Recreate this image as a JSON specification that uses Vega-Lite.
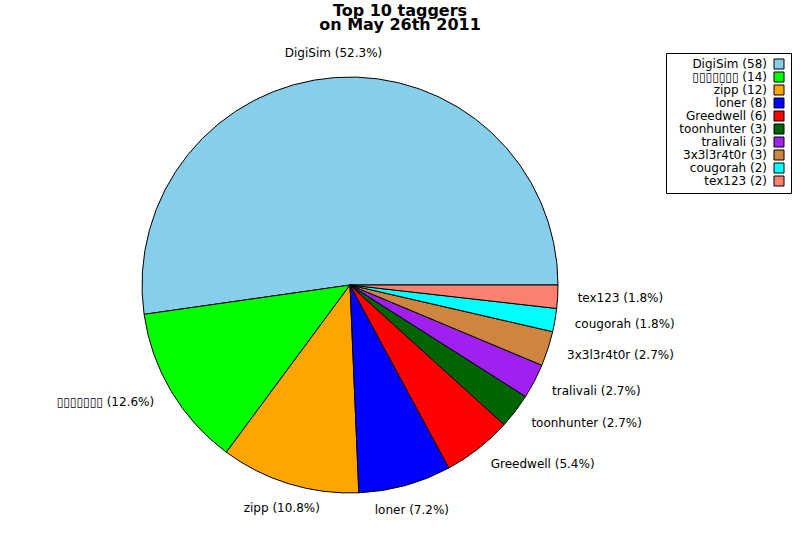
{
  "$schema": "https://vega.github.io/schema/vega-lite/v6.json",
  "width": 416,
  "height": 416,
  "autosize": {"type": "none"},
  "padding": {"left": 142, "top": 77, "right": 242, "bottom": 47},
  "background": "white",
  "config": {"view": {"stroke": null}, "font": "DejaVu Sans", "legend": {"rowPadding": -3}},
  "title": {
    "text": ["Top 10 taggers", "on May 26th 2011"],
    "font": "DejaVu Sans",
    "fontSize": 16,
    "fontWeight": "bold",
    "lineHeight": 14,
    "anchor": "middle",
    "frame": "group",
    "dx": 50,
    "offset": 14,
    "color": "black"
  },
  "data": {
    "values": [
      {"rank": 1, "name": "DigiSim", "count": 58, "label": "DigiSim (52.3%)", "entry": "DigiSim (58)"},
      {"rank": 2, "name": "▯▯▯▯▯▯▯", "count": 14, "label": "▯▯▯▯▯▯▯ (12.6%)", "entry": "▯▯▯▯▯▯▯ (14)"},
      {"rank": 3, "name": "zipp", "count": 12, "label": "zipp (10.8%)", "entry": "zipp (12)"},
      {"rank": 4, "name": "loner", "count": 8, "label": "loner (7.2%)", "entry": "loner (8)"},
      {"rank": 5, "name": "Greedwell", "count": 6, "label": "Greedwell (5.4%)", "entry": "Greedwell (6)"},
      {"rank": 6, "name": "toonhunter", "count": 3, "label": "toonhunter (2.7%)", "entry": "toonhunter (3)"},
      {"rank": 7, "name": "tralivali", "count": 3, "label": "tralivali (2.7%)", "entry": "tralivali (3)"},
      {"rank": 8, "name": "3x3l3r4t0r", "count": 3, "label": "3x3l3r4t0r (2.7%)", "entry": "3x3l3r4t0r (3)"},
      {"rank": 9, "name": "cougorah", "count": 2, "label": "cougorah (1.8%)", "entry": "cougorah (2)"},
      {"rank": 10, "name": "tex123", "count": 2, "label": "tex123 (1.8%)", "entry": "tex123 (2)"}
    ]
  },
  "encoding": {
    "theta": {"field": "count", "type": "quantitative", "stack": true, "scale": {"range": [1.5708, -4.7124]}},
    "order": {"field": "rank", "type": "quantitative"}
  },
  "layer": [
    {
      "mark": {"type": "arc", "outerRadius": 208, "stroke": "black", "strokeWidth": 1},
      "encoding": {
        "color": {
          "field": "entry",
          "type": "nominal",
          "scale": {
            "domain": ["DigiSim (58)", "▯▯▯▯▯▯▯ (14)", "zipp (12)", "loner (8)", "Greedwell (6)", "toonhunter (3)", "tralivali (3)", "3x3l3r4t0r (3)", "cougorah (2)", "tex123 (2)"],
            "range": ["#87CEEB", "#00FF00", "#FFA500", "#0000FF", "#FF0000", "#006400", "#A020F0", "#CD853F", "#00FFFF", "#FA8072"]
          },
          "legend": {
            "orient": "none",
            "legendX": 524,
            "legendY": -24,
            "title": null,
            "symbolType": "square",
            "symbolSize": 100,
            "symbolStrokeColor": "black",
            "symbolStrokeWidth": 1,
            "labelFont": "DejaVu Sans",
            "labelFontSize": 12,
            "labelColor": "black",
            "labelAlign": "right",
            "labelLimit": 200,
            "symbolOffset": 102,
            "labelOffset": -18,
            "strokeColor": "black",
            "fillColor": "white",
            "padding": 5
          }
        }
      }
    },
    {
      "mark": {"type": "text", "radius": 233, "align": "center", "baseline": "middle", "fontSize": 12, "color": "black"},
      "encoding": {
        "text": {"condition": {"test": "datum.rank === 1 || datum.rank === 3 || datum.rank === 4", "field": "label"}, "value": ""}
      }
    },
    {
      "mark": {"type": "text", "radius": 228, "align": "right", "baseline": "middle", "fontSize": 12, "color": "black"},
      "encoding": {
        "text": {"condition": {"test": "datum.rank === 2", "field": "label"}, "value": ""}
      }
    },
    {
      "mark": {"type": "text", "radius": 228, "align": "left", "baseline": "middle", "fontSize": 12, "color": "black"},
      "encoding": {
        "text": {"condition": {"test": "datum.rank >= 5", "field": "label"}, "value": ""}
      }
    }
  ]
}
